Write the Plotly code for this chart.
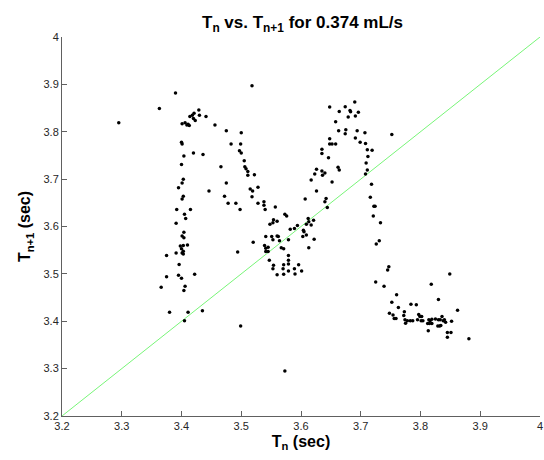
import plotly.graph_objects as go

# T_n values (x) and T_{n+1} values (y), in three groups
tn_left = [3.390, 3.363, 3.295, 3.429, 3.421, 3.418, 3.430, 3.414, 3.420, 3.423,
           3.441, 3.401, 3.406, 3.409, 3.411, 3.413, 3.456, 3.475, 3.500, 3.400,
           3.401, 3.483, 3.499, 3.497, 3.500, 3.420, 3.436, 3.404, 3.505, 3.400,
           3.466, 3.506, 3.508, 3.511, 3.511, 3.522, 3.403, 3.401, 3.475, 3.395,
           3.446, 3.515, 3.519, 3.528, 3.518, 3.403, 3.472, 3.401, 3.478, 3.491,
           3.528, 3.498, 3.392, 3.415, 3.405, 3.407, 3.391, 3.404, 3.401, 3.404,
           3.398, 3.403, 3.410, 3.400, 3.403, 3.391, 3.401, 3.403, 3.375, 3.494,
           3.520, 3.396, 3.375, 3.395, 3.400, 3.422, 3.366, 3.406, 3.404, 3.380,
           3.411, 3.435, 3.405, 3.499, 3.518]
tn1_left = [3.882, 3.849, 3.819, 3.846, 3.839, 3.835, 3.835, 3.832, 3.828, 3.824,
            3.832, 3.817, 3.819, 3.814, 3.816, 3.813, 3.814, 3.802, 3.798, 3.778,
            3.774, 3.774, 3.774, 3.760, 3.755, 3.755, 3.752, 3.749, 3.739, 3.731,
            3.726, 3.726, 3.722, 3.716, 3.708, 3.709, 3.700, 3.692, 3.692, 3.682,
            3.675, 3.679, 3.675, 3.683, 3.663, 3.664, 3.664, 3.658, 3.649, 3.649,
            3.649, 3.636, 3.636, 3.636, 3.626, 3.617, 3.607, 3.588, 3.580, 3.576,
            3.559, 3.560, 3.561, 3.553, 3.548, 3.544, 3.544, 3.542, 3.539, 3.546,
            3.567, 3.520, 3.494, 3.497, 3.491, 3.499, 3.472, 3.474, 3.465, 3.419,
            3.419, 3.422, 3.401, 3.390, 3.897]

tn_mid = [3.538, 3.538, 3.540, 3.557, 3.573, 3.576, 3.548, 3.554, 3.560, 3.553,
          3.541, 3.551, 3.560, 3.562, 3.553, 3.564, 3.582, 3.589, 3.594, 3.603,
          3.605, 3.604, 3.609, 3.609, 3.612, 3.613, 3.617, 3.621, 3.622, 3.613,
          3.539, 3.545, 3.541, 3.541, 3.545, 3.567, 3.571, 3.579, 3.579, 3.579,
          3.579, 3.547, 3.554, 3.553, 3.571, 3.570, 3.596, 3.589, 3.579, 3.601,
          3.560, 3.571, 3.590, 3.573, 3.607, 3.642, 3.640, 3.644, 3.626, 3.617,
          3.652, 3.626, 3.623, 3.635, 3.640, 3.636, 3.635, 3.635, 3.646, 3.648,
          3.648, 3.652, 3.658, 3.658, 3.648, 3.664, 3.674, 3.682, 3.683, 3.690,
          3.696, 3.679, 3.691, 3.663, 3.675, 3.674, 3.694, 3.707, 3.691, 3.699,
          3.708, 3.711, 3.719, 3.712, 3.709, 3.711, 3.708, 3.662, 3.664, 3.718,
          3.716, 3.722, 3.724, 3.721, 3.733, 3.731, 3.726, 3.752]
tn1_mid = [3.652, 3.645, 3.636, 3.641, 3.626, 3.622, 3.605, 3.614, 3.611, 3.608,
           3.579, 3.579, 3.580, 3.579, 3.572, 3.570, 3.594, 3.596, 3.602, 3.579,
           3.589, 3.592, 3.582, 3.605, 3.617, 3.610, 3.603, 3.613, 3.573, 3.555,
           3.560, 3.556, 3.554, 3.547, 3.547, 3.555, 3.553, 3.572, 3.539, 3.529,
           3.521, 3.529, 3.518, 3.511, 3.519, 3.511, 3.519, 3.511, 3.506, 3.506,
           3.498, 3.499, 3.500, 3.295, 3.658, 3.659, 3.652, 3.640, 3.675, 3.698,
           3.694, 3.721, 3.711, 3.717, 3.713, 3.708, 3.763, 3.754, 3.745, 3.785,
           3.774, 3.774, 3.774, 3.821, 3.852, 3.843, 3.853, 3.845, 3.842, 3.863,
           3.841, 3.831, 3.833, 3.802, 3.804, 3.796, 3.802, 3.798, 3.787, 3.778,
           3.775, 3.762, 3.761, 3.748, 3.734, 3.719, 3.711, 3.725, 3.719, 3.689,
           3.662, 3.643, 3.643, 3.622, 3.608, 3.570, 3.563, 3.794]

tn_right = [3.747, 3.745, 3.849, 3.725, 3.739, 3.818, 3.760, 3.752, 3.784, 3.793,
            3.830, 3.763, 3.862, 3.748, 3.754, 3.756, 3.759, 3.773, 3.772, 3.774,
            3.775, 3.778, 3.783, 3.787, 3.797, 3.799, 3.802, 3.795, 3.801, 3.804,
            3.814, 3.816, 3.819, 3.812, 3.813, 3.815, 3.819, 3.825, 3.830, 3.836,
            3.833, 3.840, 3.842, 3.838, 3.829, 3.832, 3.834, 3.852, 3.845, 3.851,
            3.845, 3.881]
tn1_right = [3.515, 3.508, 3.500, 3.483, 3.474, 3.478, 3.456, 3.440, 3.436, 3.435,
             3.446, 3.429, 3.423, 3.417, 3.413, 3.406, 3.406, 3.420, 3.412, 3.403,
             3.396, 3.401, 3.401, 3.401, 3.414, 3.410, 3.410, 3.403, 3.401, 3.401,
             3.403, 3.401, 3.404, 3.395, 3.380, 3.395, 3.395, 3.405, 3.403, 3.410,
             3.403, 3.403, 3.398, 3.401, 3.390, 3.390, 3.391, 3.400, 3.376, 3.376,
             3.366, 3.363]

identity_line = [3.2, 4.0]
tick_values = [3.2, 3.3, 3.4, 3.5, 3.6, 3.7, 3.8, 3.9, 4.0]
tick_labels = ["3.2", "3.3", "3.4", "3.5", "3.6", "3.7", "3.8", "3.9", "4"]

tn = tn_left + tn_mid + tn_right
tn1 = tn1_left + tn1_mid + tn1_right

FONT = "Liberation Sans, Arial, sans-serif"

fig = go.Figure()
fig.add_trace(go.Scatter(
    x=identity_line, y=identity_line, mode="lines",
    line=dict(color="rgb(120,245,120)", width=1),
    hoverinfo="skip", showlegend=False))
fig.add_trace(go.Scatter(
    x=tn, y=tn1, mode="markers",
    marker=dict(color="black", size=3.5, symbol="circle", line=dict(width=0)),
    showlegend=False))

axis_common = dict(
    range=[3.2, 4.0], tickmode="array", tickvals=tick_values, ticktext=tick_labels,
    showgrid=False, zeroline=False, showline=True, linecolor="#606060", linewidth=1,
    ticks="inside", ticklen=5, tickcolor="#606060", mirror=False,
    tickfont=dict(family=FONT, size=11, color="#262626"),
    ticklabeloverflow="allow",
)

fig.update_layout(
    width=544, height=460,
    margin=dict(l=62, r=1, t=37, b=44, pad=0),
    paper_bgcolor="white", plot_bgcolor="white",
    title=dict(text="<b>T<sub>n</sub> vs. T<sub>n+1</sub> for 0.374 mL/s</b>",
               x=(62 + 543) / 2 / 544, xanchor="center",
               y=1 - 22 / 460, yanchor="middle", yref="container",
               font=dict(family=FONT, size=17, color="black")),
    xaxis=dict(**axis_common,
               title=dict(text="<b>T<sub>n</sub> (sec)</b>", standoff=4,
                          font=dict(family=FONT, size=16, color="black"))),
    yaxis=dict(**axis_common,
               title=dict(text="<b>T<sub>n+1</sub> (sec)</b>", standoff=8,
                          font=dict(family=FONT, size=16, color="black"))),
)

fig.write_html("out.html")
